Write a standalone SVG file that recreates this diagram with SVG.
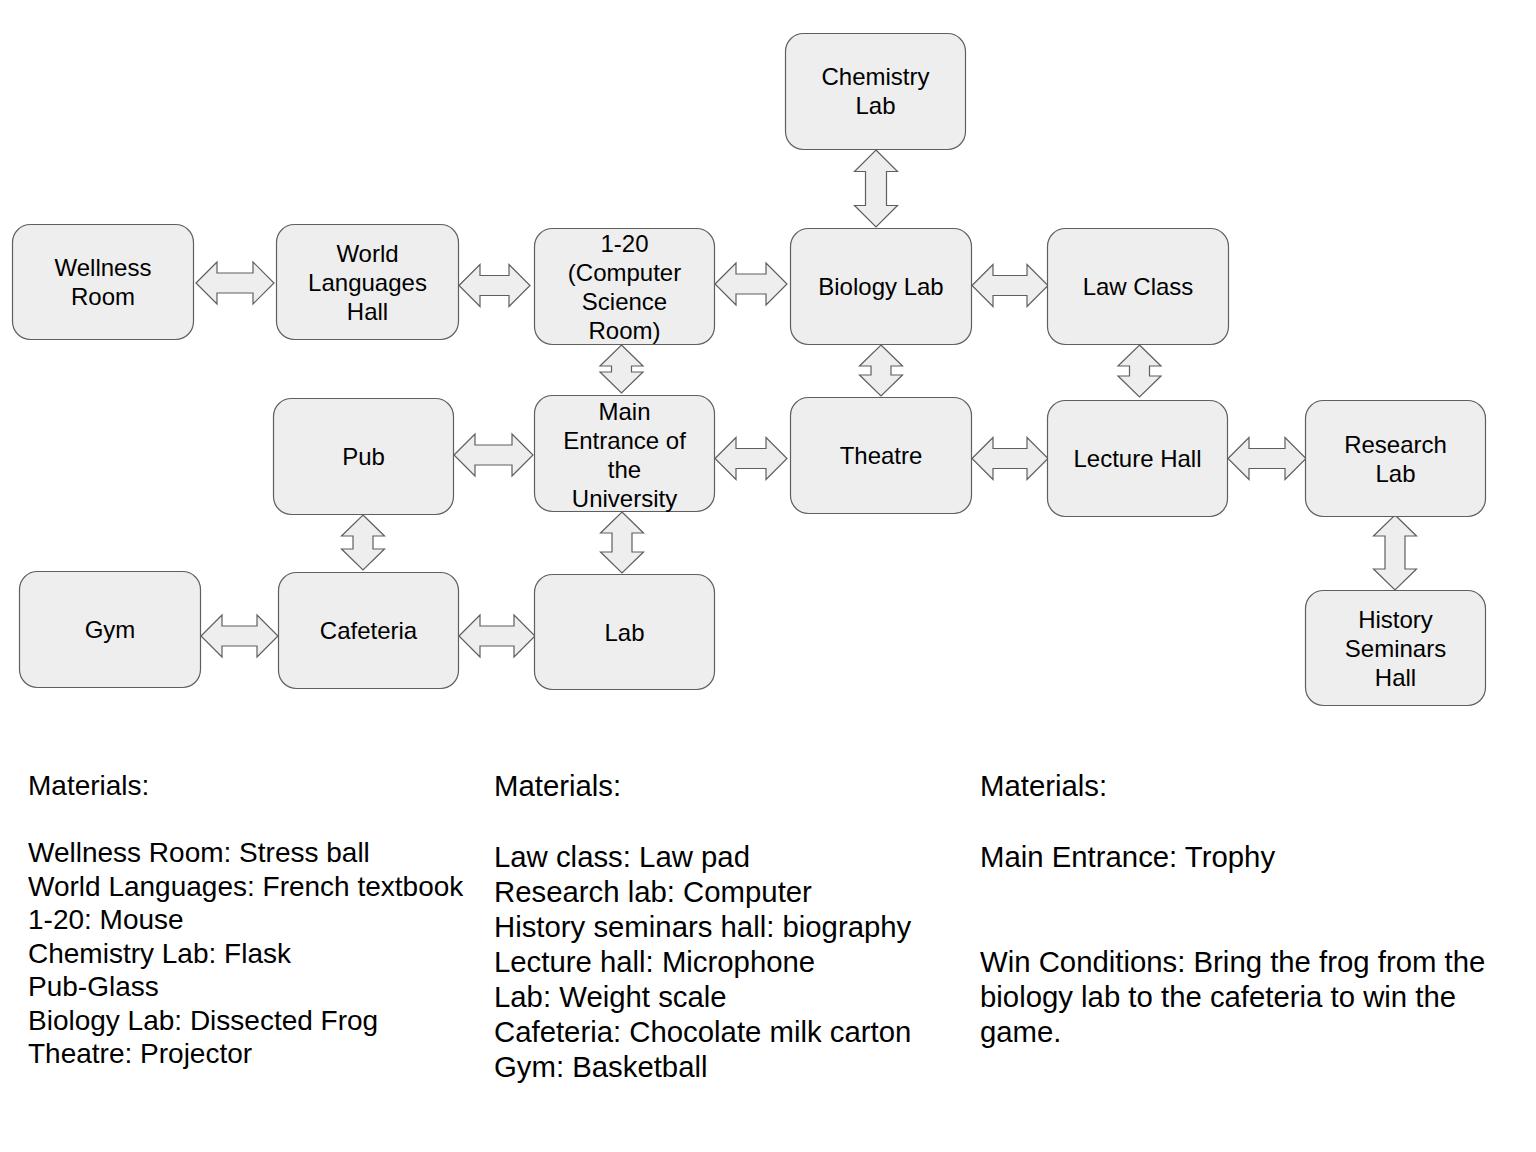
<svg xmlns="http://www.w3.org/2000/svg" width="1536" height="1152" viewBox="0 0 1536 1152">
<style>
.node rect{fill:#eeeeee;stroke:#5f5f5f;stroke-width:1.2}
.node text{font-family:"Liberation Sans",Arial,sans-serif;font-size:24px;fill:#000;text-anchor:middle}
.conn path{fill:#eeeeee;stroke:#5f5f5f;stroke-width:1.2;stroke-linejoin:miter}
.notes text{font-family:"Liberation Sans",Arial,sans-serif;fill:#000}
.c1{font-size:28px}
.c2{font-size:29.33px}
</style>
<rect width="1536" height="1152" fill="#ffffff"/>
<g id="connectors" class="conn">
  <!-- horizontal: M x1,y L x1+21,y-21 V y-10 H x2-21 V y-21 L x2,y L x2-21,y+21 V y+10 H x1+21 V y+21 Z -->
  <path id="c-wr-wlh" d="M196,283 L217,262 V273 H253 V262 L274,283 L253,304 V293 H217 V304 Z"/>
  <path id="c-wlh-120" d="M459,285.5 L480,264.5 V275.5 H509 V264.5 L530,285.5 L509,306.5 V295.5 H480 V306.5 Z"/>
  <path id="c-120-bio" d="M715,284 L736,263 V274 H766 V263 L787,284 L766,305 V294 H736 V305 Z"/>
  <path id="c-bio-law" d="M972,285.5 L993,264.5 V275.5 H1027 V264.5 L1048,285.5 L1027,306.5 V295.5 H993 V306.5 Z"/>
  <path id="c-pub-main" d="M454,455 L475,434 V445 H512 V434 L533,455 L512,476 V465 H475 V476 Z"/>
  <path id="c-main-theatre" d="M715,458.5 L736,437.5 V448.5 H766 V437.5 L787,458.5 L766,479.5 V468.5 H736 V479.5 Z"/>
  <path id="c-theatre-lecture" d="M972,458.5 L993,437.5 V448.5 H1027 V437.5 L1048,458.5 L1027,479.5 V468.5 H993 V479.5 Z"/>
  <path id="c-lecture-research" d="M1228,458.5 L1249,437.5 V448.5 H1285 V437.5 L1306,458.5 L1285,479.5 V468.5 H1249 V479.5 Z"/>
  <path id="c-gym-caf" d="M201,636 L222,615 V626 H257 V615 L278,636 L257,657 V646 H222 V657 Z"/>
  <path id="c-caf-lab" d="M459,636 L480,615 V626 H514 V615 L535,636 L514,657 V646 H480 V657 Z"/>
  <!-- vertical -->
  <path id="c-chem-bio" d="M876,150 L897.5,171.5 H886.5 V205.5 H897.5 L876,227 L854.5,205.5 H865.5 V171.5 H854.5 Z"/>
  <path id="c-120-main" d="M621.5,345 L643,366 H631.5 V372 H643 L621.5,393 L600,372 H611.5 V366 H600 Z"/>
  <path id="c-bio-theatre" d="M881,345 L902.5,366 H891 V375 H902.5 L881,396 L859.5,375 H871 V366 H859.5 Z"/>
  <path id="c-law-lecture" d="M1139.5,345 L1161,366 H1149.5 V376 H1161 L1139.5,397 L1118,376 H1129.5 V366 H1118 Z"/>
  <path id="c-pub-caf" d="M363,515 L384.5,536 H373 V549 H384.5 L363,570 L341.5,549 H353 V536 H341.5 Z"/>
  <path id="c-main-lab" d="M622,512 L643.5,533 H632 V552 H643.5 L622,573 L600.5,552 H612 V533 H600.5 Z"/>
  <path id="c-research-history" d="M1395,515 L1416.5,536 H1405 V569 H1416.5 L1395,590 L1373.5,569 H1385 V536 H1373.5 Z"/>
</g>
<g id="n-chem" class="node"><rect x="785.5" y="33.5" width="180" height="116" rx="18"/><text x="875.5" y="85">Chemistry</text><text x="875.5" y="114">Lab</text></g>
<g id="n-wellness" class="node"><rect x="12.5" y="224.5" width="181" height="115" rx="18"/><text x="103" y="276">Wellness</text><text x="103" y="305">Room</text></g>
<g id="n-worldlang" class="node"><rect x="276.5" y="224.5" width="182" height="115" rx="18"/><text x="367.5" y="261.5">World</text><text x="367.5" y="290.5">Languages</text><text x="367.5" y="319.5">Hall</text></g>
<g id="n-120" class="node"><rect x="534.5" y="228.5" width="180" height="116" rx="18"/><text x="624.5" y="251.5">1-20</text><text x="624.5" y="280.5">(Computer</text><text x="624.5" y="309.5">Science</text><text x="624.5" y="338.5">Room)</text></g>
<g id="n-bio" class="node"><rect x="790.5" y="228.5" width="181" height="116" rx="18"/><text x="881" y="294.5">Biology Lab</text></g>
<g id="n-law" class="node"><rect x="1047.5" y="228.5" width="181" height="116" rx="18"/><text x="1138" y="294.5">Law Class</text></g>
<g id="n-pub" class="node"><rect x="273.5" y="398.5" width="180" height="116" rx="18"/><text x="363.5" y="464.5">Pub</text></g>
<g id="n-main" class="node"><rect x="534.5" y="395.5" width="180" height="116" rx="18"/><text x="624.5" y="419.5">Main</text><text x="624.5" y="448.5">Entrance of</text><text x="624.5" y="477.5">the</text><text x="624.5" y="506.5">University</text></g>
<g id="n-theatre" class="node"><rect x="790.5" y="397.5" width="181" height="116" rx="18"/><text x="881" y="463.5">Theatre</text></g>
<g id="n-lecture" class="node"><rect x="1047.5" y="400.5" width="180" height="116" rx="18"/><text x="1137.5" y="466.5">Lecture Hall</text></g>
<g id="n-research" class="node"><rect x="1305.5" y="400.5" width="180" height="116" rx="18"/><text x="1395.5" y="452.5">Research</text><text x="1395.5" y="481.5">Lab</text></g>
<g id="n-gym" class="node"><rect x="19.5" y="571.5" width="181" height="116" rx="18"/><text x="110" y="637.5">Gym</text></g>
<g id="n-cafeteria" class="node"><rect x="278.5" y="572.5" width="180" height="116" rx="18"/><text x="368.5" y="638.5">Cafeteria</text></g>
<g id="n-lab" class="node"><rect x="534.5" y="574.5" width="180" height="115" rx="18"/><text x="624.5" y="640.5">Lab</text></g>
<g id="n-history" class="node"><rect x="1305.5" y="590.5" width="180" height="115" rx="18"/><text x="1395.5" y="627.5">History</text><text x="1395.5" y="656.5">Seminars</text><text x="1395.5" y="685.5">Hall</text></g>
<g id="notes" class="notes">
  <g class="c1">
    <text x="28" y="795">Materials:</text>
    <text x="28" y="862">Wellness Room: Stress ball</text>
    <text x="28" y="895.5">World Languages: French textbook</text>
    <text x="28" y="929">1-20: Mouse</text>
    <text x="28" y="962.5">Chemistry Lab: Flask</text>
    <text x="28" y="996">Pub-Glass</text>
    <text x="28" y="1029.5">Biology Lab: Dissected Frog</text>
    <text x="28" y="1063">Theatre: Projector</text>
  </g>
  <g class="c2">
    <text x="494" y="796">Materials:</text>
    <text x="494" y="866.5">Law class: Law pad</text>
    <text x="494" y="901.5">Research lab: Computer</text>
    <text x="494" y="936.5">History seminars hall: biography</text>
    <text x="494" y="971.5">Lecture hall: Microphone</text>
    <text x="494" y="1006.5">Lab: Weight scale</text>
    <text x="494" y="1041.5">Cafeteria: Chocolate milk carton</text>
    <text x="494" y="1076.5">Gym: Basketball</text>
  </g>
  <g class="c2">
    <text x="980" y="796">Materials:</text>
    <text x="980" y="866.5">Main Entrance: Trophy</text>
    <text x="980" y="971.5">Win Conditions: Bring the frog from the</text>
    <text x="980" y="1006.5">biology lab to the cafeteria to win the</text>
    <text x="980" y="1041.5">game.</text>
  </g>
</g>
</svg>
